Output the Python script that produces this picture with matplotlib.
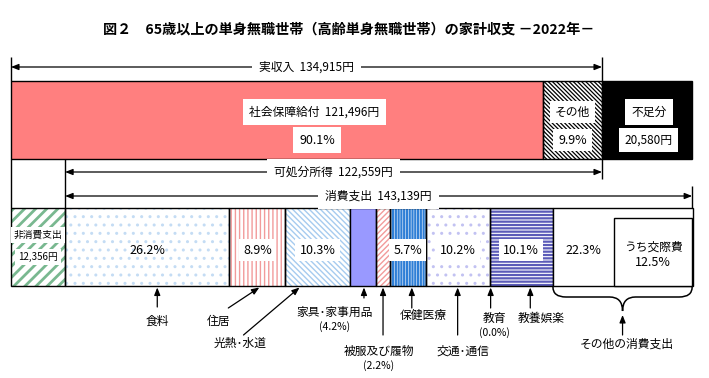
import numpy as np
import matplotlib
matplotlib.use("Agg")
import matplotlib.pyplot as plt
from matplotlib.path import Path
from matplotlib.patches import PathPatch

plt.rcParams['font.family'] = ['Noto Sans CJK JP', 'DejaVu Sans']

# 収入（円）
income_labels = ["社会保障給付", "その他"]
income_values = [121496, 13419]
income_shares = [90.1, 9.9]
income_total = 134915
shortfall = 20580

# 支出（円・%）
non_consumption = 12356
disposable = 122559
consumption_total = 143139
categories = ["食料", "住居", "光熱･水道", "家具･家事用品", "被服及び履物",
              "保健医療", "交通･通信", "教育", "教養娯楽", "その他の消費支出"]
shares = [26.2, 8.9, 10.3, 4.2, 2.2, 5.7, 10.2, 0.0, 10.1, 22.3]
social_share = 12.5  # うち交際費

# 塗り（facecolor, hatch, hatch color）
cat_styles = [
    ("white", "..", "#c4dcf4"),
    ("white", "||||", "#f29b9b"),
    ("white", "\\\\\\\\\\\\", "#a6cbef"),
    ("#9999ff", None, None),
    ("white", "//////", "#f29b9b"),
    ("white", "||||||", "#2f7fd6"),
    ("white", "..", "#c2c2f2"),
    ("white", None, None),
    ("white", "-----", "#5b5bb8"),
    ("white", None, None),
]
# 割合ラベルの白枠の有無
cat_boxed = [False, True, True, False, False, True, True, False, True, False]

PX = income_total / 591.0  # 1ピクセルあたりの円

fig = plt.figure(figsize=(7.09, 3.78), dpi=100)
ax = fig.add_axes([0, 0, 1, 1])
ax.set_xlim(-11 * PX, 698 * PX)
ax.set_ylim(378, 0)
ax.axis("off")


def seg(y, left, width, height, fc, hatch=None, hc="black", hlw=1.0):
    if hatch:
        bars = ax.barh(y, width, left=left, height=height, color=fc,
                       edgecolor=hc, hatch=hatch, linewidth=0, zorder=2)
        for b in bars:
            if hasattr(b, "set_hatch_linewidth"):
                b.set_hatch_linewidth(hlw)
        ax.barh(y, width, left=left, height=height, fill=False,
                edgecolor="black", linewidth=1, zorder=3)
    else:
        ax.barh(y, width, left=left, height=height, color=fc,
                edgecolor="black", linewidth=1, zorder=3)


def label(x, y, s, box=True, size=8.5, pad=3.5):
    bb = dict(facecolor="white", edgecolor="none", pad=pad) if box else None
    ax.text(x, y, s, ha="center", va="center", fontsize=size, bbox=bb, zorder=5)


def span(x0, x1, y, s):
    ax.annotate("", xy=(x1, y), xytext=(x0, y),
                arrowprops=dict(arrowstyle="<|-|>,head_length=0.45,head_width=0.18",
                                color="black", lw=0.9, shrinkA=0, shrinkB=0), zorder=4)
    ax.text((x0 + x1) / 2, y, s, ha="center", va="center", fontsize=8.5,
            bbox=dict(facecolor="white", edgecolor="none", pad=5), zorder=5)


# ---- タイトル
ax.text(338 * PX, 30, "図２　65歳以上の単身無職世帯（高齢単身無職世帯）の家計収支 －2022年－",
        ha="center", va="center", fontsize=10.2, fontweight="bold")

# ---- 上段：実収入
top_y, bar_h = 120, 78
lefts = np.concatenate([[0], np.cumsum(income_values)[:-1]])
seg(top_y, lefts[0], income_values[0], bar_h, "#ff7f7f")
seg(top_y, lefts[1], income_values[1], bar_h, "white", "\\\\\\\\\\\\\\\\", "black", 0.9)
seg(top_y, income_total, shortfall, bar_h, "black")

label(lefts[0] + income_values[0] * 0.57, 112, f"{income_labels[0]}  {income_values[0]:,}円", pad=4.5)
label(lefts[0] + income_values[0] * 0.575, 140, f"{income_shares[0]}%", size=9, pad=4.5)
label(lefts[1] + income_values[1] / 2, 112, income_labels[1], pad=3.5)
label(lefts[1] + income_values[1] / 2, 140, f"{income_shares[1]}%", size=9, pad=3.5)
label(income_total + shortfall * 0.52, 112, "不足分", pad=4.5)
label(income_total + shortfall * 0.52, 140, f"{shortfall:,}円", pad=4)

# ---- 下段：支出
bot_y = 247
seg(bot_y, 0, non_consumption, bar_h, "white", "///", "#79b890", 2.0)
label(non_consumption / 2, 235, "非消費支出", size=7, pad=2)
label(non_consumption / 2, 257, f"{non_consumption:,}円", size=7, pad=2)

widths = np.array(shares) / 100.0 * consumption_total
starts = non_consumption + np.concatenate([[0], np.cumsum(widths)[:-1]])
centers = starts + widths / 2
for i, (fc, h, hc) in enumerate(cat_styles):
    if widths[i] <= 0:
        continue
    lw = 1.6 if h in ("||||||", "-----") else 1.0
    seg(bot_y, starts[i], widths[i], bar_h, fc, h, hc, lw)

cons_end = non_consumption + consumption_total
# うち交際費
soc_w = social_share / 100.0 * consumption_total
ax.barh(252, soc_w, left=cons_end - soc_w, height=68, color="white",
        edgecolor="black", linewidth=1, zorder=4)
label(cons_end - soc_w / 2, 247, "うち交際費", box=False)
label(cons_end - soc_w / 2, 263, f"{social_share}%", box=False, size=9)

# 割合ラベル
for i in range(len(categories)):
    if i in (3, 4, 7):
        continue
    x = centers[i]
    if i == 9:
        x = starts[i] + (widths[i] - soc_w) / 2
    label(x, 250, f"{shares[i]}%", box=cat_boxed[i], size=9, pad=3)

# ---- 金額の矢印と区切り線
span(0, income_total, 67, f"実収入  {income_total:,}円")
span(non_consumption, income_total, 172, f"可処分所得  {disposable:,}円")
span(non_consumption, cons_end, 196, f"消費支出  {consumption_total:,}円")

ax.vlines([0, income_total], 57, 81, color="black", lw=1)
ax.vlines([0, non_consumption], 159, 208, color="black", lw=1)
ax.vlines(income_total, 159, 179, color="black", lw=1)
ax.vlines(cons_end, 186, 208, color="black", lw=1)

# ---- 下の項目名（矢印先端 dx, 矢印根元 dx, 根元 y, 文字 dx, 文字 y）
ann = [
    (10, 10, 307, 10, 321, None),
    (2, -29, 308, -39, 321, None),
    (-18, -74, 335, -77, 343, None),
    (1, 1, 298, -28, 312, "(4.2%)"),
    (0, 0, 335, -4, 351, "(2.2%)"),
    (4, 4, 308, 15, 315, None),
    (0, 0, 335, 5, 351, None),
    (1, 1, 308, 5, 318, "(0.0%)"),
    (9, 9, 308, 20, 318, None),
]
arrow_kw = dict(arrowstyle="-|>,head_length=0.45,head_width=0.18",
                color="black", lw=0.9, shrinkA=0, shrinkB=0)
for i, (hdx, tdx, ty, xdx, xy, sub) in enumerate(ann):
    hx = centers[i] + hdx * PX
    ax.annotate("", xy=(hx, 287.5), xytext=(centers[i] + tdx * PX, ty),
                arrowprops=arrow_kw)
    ax.text(centers[i] + xdx * PX, xy, categories[i], ha="center", va="center", fontsize=8.5)
    if sub:
        ax.text(centers[i] + xdx * PX, xy + 15, sub, ha="center", va="center", fontsize=7.5)

# その他の消費支出：波かっこ
bl, br = starts[9], cons_end
bm = bl + (br - bl) * 0.5
r = 13 * PX
verts = [(bl, 287), (bl, 297), (bl + r, 297),
         (bm - r, 297),
         (bm, 297), (bm, 311),
         (bm, 297), (bm + r, 297),
         (br - r, 297),
         (br, 297), (br, 287)]
codes = [Path.MOVETO, Path.CURVE3, Path.CURVE3,
         Path.LINETO,
         Path.CURVE3, Path.CURVE3,
         Path.CURVE3, Path.CURVE3,
         Path.LINETO,
         Path.CURVE3, Path.CURVE3]
ax.add_patch(PathPatch(Path(verts, codes), fill=False, lw=1.1, color="black"))
ax.annotate("", xy=(bm, 315), xytext=(bm, 335), arrowprops=arrow_kw)
ax.text(bm + 4 * PX, 344, categories[9], ha="center", va="center", fontsize=8.5)

fig.savefig("out.png", dpi=100)
